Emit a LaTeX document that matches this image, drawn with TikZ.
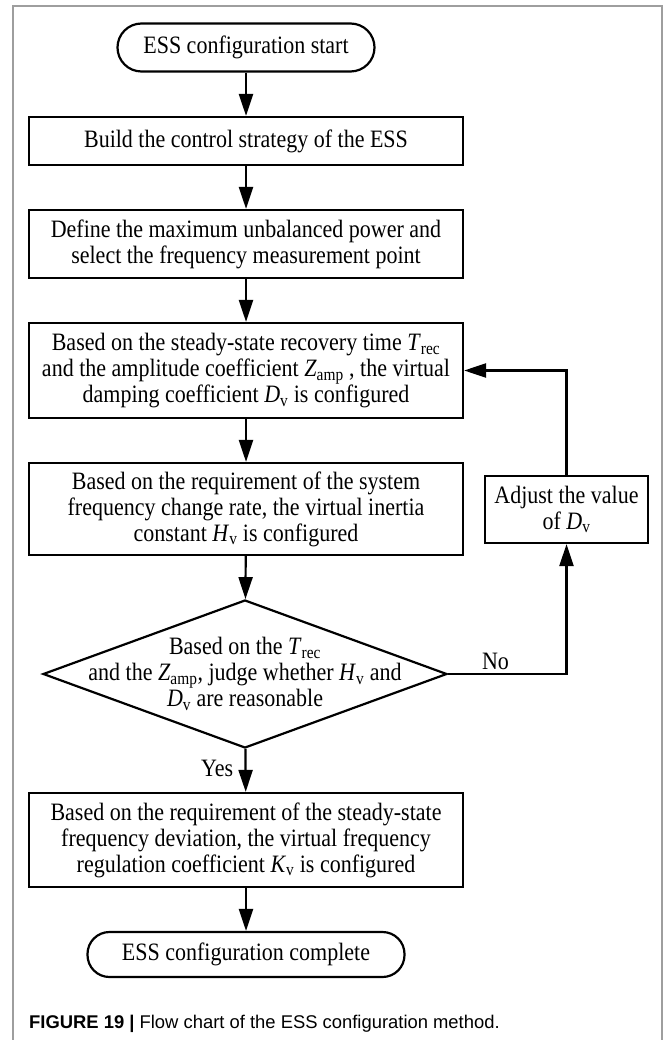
\documentclass[tikz,border=0pt]{standalone}
\usepackage{fontspec}
\setmainfont[FakeStretch=0.88]{Liberation Serif}
\newfontfamily\capfont{Liberation Sans}
\usetikzlibrary{shapes.geometric}
\usetikzlibrary{positioning}
\usetikzlibrary{arrows.meta,calc}
\newcommand{\qsub}[2]{\textit{#1}\textsubscript{#2}}

\begin{document}
\begin{tikzpicture}[%
  x=1pt, y=-1pt,
  every node/.style={font=\fontsize{25}{26}\selectfont},
  proc/.style={draw, line width=2.2pt, minimum width=434pt, align=center, inner sep=0pt},
  term/.style={draw, line width=2.2pt, align=center, inner sep=0pt},
  judgebox/.style={draw, diamond, line width=2.2pt, inner sep=0pt, minimum width=404pt, minimum height=148pt},
  flow/.style={line width=2.2pt, -{Triangle[length=22pt,width=14pt]}},
]
\useasboundingbox (0,0) rectangle (665,1040);
%\fill[white] (0,0) rectangle (665,1040);
\draw[color=black!38, line width=1.7pt] (13,1040) -- (13,6) -- (662,6) -- (662,1040);

\node[term, minimum width=257pt, minimum height=48pt, rounded corners=24pt] (start) at (246,47.5) {ESS configuration start};
\node[proc, minimum height=48pt] (build) at (246,141) {Build the control strategy of the ESS};
\node[proc, minimum height=68pt] (define) at (246,244) {Define the maximum unbalanced power and\\select the frequency measurement point};
\node[proc, minimum height=95pt] (damping) at (246,370.5) {Based on the steady-state recovery time \qsub{T}{rec}\\and the amplitude coefficient \qsub{Z}{amp} , the virtual\\damping coefficient \qsub{D}{v} is configured};
\node[proc, minimum height=92pt] (inertia) at (246,509) {Based on the requirement of the system\\frequency change rate, the virtual inertia\\constant \qsub{H}{v} is configured};
\node[judgebox, label={[align=center]center:Based on the \qsub{T}{rec}\\and the \qsub{Z}{amp}, judge whether \qsub{H}{v} and\\\qsub{D}{v} are reasonable}] (judge) at (245,674) {};
\node[proc, minimum height=94pt] (regulation) at (246,840) {Based on the requirement of the steady-state\\frequency deviation, the virtual frequency\\regulation coefficient \qsub{K}{v} is configured};
\node[term, minimum width=317pt, minimum height=45pt, rounded corners=22pt] (finish) at (246,954.5) {ESS configuration complete};
\node[proc, minimum width=163pt, minimum height=67pt] (adjust) at (566.5,509.5) {Adjust the value\\of \qsub{D}{v}};

\draw[flow] (start) -- (build);
\draw[flow] (build) -- (define);
\draw[flow] (define) -- (damping);
\draw[flow] (damping) -- (inertia);
\draw[flow] (inertia) -- (judge);
\draw[flow] (judge) -- (regulation) node[pos=0.45, left=8pt]{Yes};
\draw[flow] (regulation) -- (finish);
\draw[flow] (judge.east) -- (judge.east -| adjust) node[pos=0.4, above]{No} -- (adjust.south);
\draw[flow] (adjust.north) |- (damping.east);

\node[anchor=base west, inner sep=0pt, font=\capfont\fontsize{18.4}{20}\selectfont] (caption) at (29,1028) {\textbf{FIGURE 19 |} Flow chart of the ESS configuration method.};
\end{tikzpicture}
\end{document}
